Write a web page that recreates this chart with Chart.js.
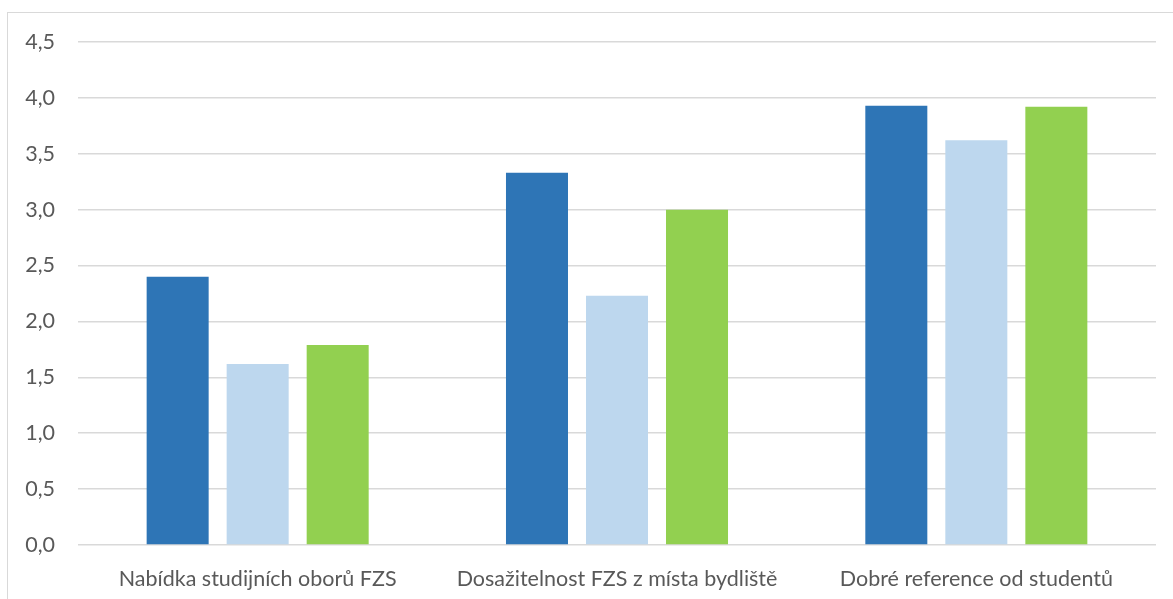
<!DOCTYPE html>
<html>
<head>
<meta charset="utf-8">
<script src="https://cdn.jsdelivr.net/npm/chart.js@4"></script>
<style>
  html, body { margin: 0; padding: 0; background: #fff; overflow: hidden; }
  #frame { position: absolute; left: 7px; top: 12px; width: 1300px; height: 700px; border: 1px solid #D9D9D9; box-sizing: border-box; }
  #c { position: absolute; left: 0; top: 0; }
</style>
</head>
<body>
<div id="frame"></div>
<canvas id="c" width="1173" height="599"></canvas>
<script>
const categories = ["Nabídka studijních oborů FZS", "Dosažitelnost FZS z místa bydliště", "Dobré reference od studentů"];
const series1 = [2.40, 3.33, 3.93];
const series2 = [1.62, 2.23, 3.62];
const series3 = [1.79, 3.00, 3.92];
const colors = ["#2E75B6", "#BDD7EE", "#92D050"];

const FONT = "Lato, 'Liberation Sans', sans-serif";

new Chart(document.getElementById('c'), {
  type: 'bar',
  data: {
    labels: categories,
    datasets: [series1, series2, series3].map((d, i) => ({
      data: d,
      backgroundColor: colors[i],
      borderWidth: 0,
      categoryPercentage: 0.668,
      barPercentage: 0.775
    }))
  },
  options: {
    responsive: false,
    animation: false,
    devicePixelRatio: 1,
    layout: { padding: { left: 0, right: 17, top: 42, bottom: 0 } },
    plugins: { legend: { display: false }, tooltip: { enabled: false } },
    scales: {
      x: {
        grid: { display: false, drawTicks: false },
        border: { display: false },
        ticks: { color: '#595959', font: { family: FONT, size: 21.5 }, padding: 21, maxRotation: 0 },
        afterFit: s => { s.height = 54; }
      },
      y: {
        min: 0, max: 4.5,
        grid: { color: '#D9D9D9', lineWidth: 1.5, drawTicks: false },
        border: { display: false },
        ticks: {
          stepSize: 0.5,
          color: '#595959',
          font: { family: FONT, size: 21.5 },
          padding: 23,
          callback: v => v.toFixed(1).replace('.', ',')
        },
        afterFit: s => { s.width = 78; }
      }
    }
  }
});
</script>
</body>
</html>
